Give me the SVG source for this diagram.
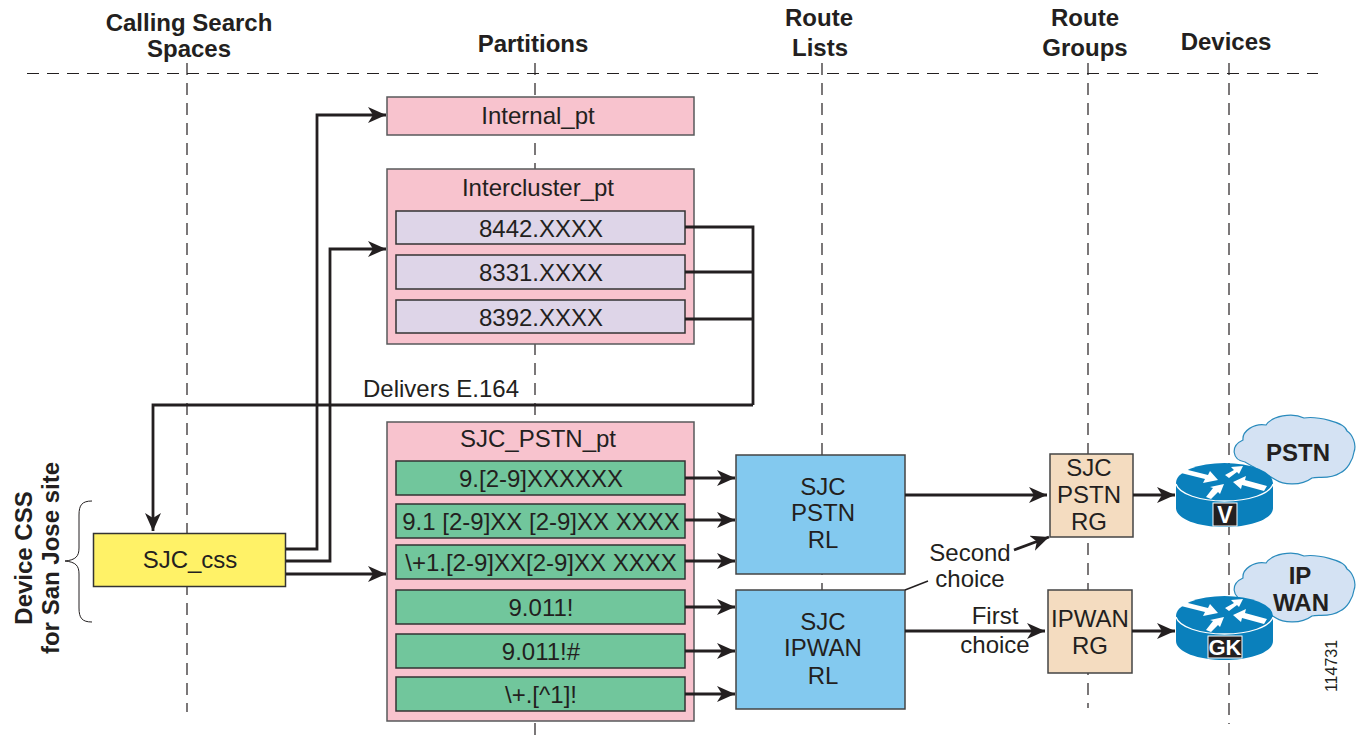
<svg xmlns="http://www.w3.org/2000/svg" width="1358" height="738" viewBox="0 0 1358 738">
<style>
text{font-family:"Liberation Sans",Arial,sans-serif;fill:#231f20;text-anchor:middle}
.t{font-size:24px}
.h{font-size:24px;font-weight:bold}
.d{stroke:#231f20;stroke-width:1.2;stroke-dasharray:12 8;fill:none}
.c{stroke:#231f20;stroke-width:2.8;fill:none}
.a{marker-end:url(#ah)}
.pk{fill:#f8c3ce;stroke:#58595b;stroke-width:1.5}
.lv{fill:#ded5e8;stroke:#333;stroke-width:1.5}
.gr{fill:#71c69c;stroke:#333;stroke-width:1.5}
.bl{fill:#83c9ef;stroke:#444;stroke-width:1.5}
.tn{fill:#f4dcc0;stroke:#444;stroke-width:1.5}
.cl{fill:#d4e2f3;stroke:#2a8bbd;stroke-width:1.2}
.rb{fill:#0a80bc}
.rl{stroke:#fff;stroke-width:1.3;fill:none}
.w{fill:#fff}
</style>
<defs>
<marker id="ah" markerUnits="userSpaceOnUse" markerWidth="20" markerHeight="16" refX="18" refY="8" orient="auto"><path d="M0 0L18 8L0 16L5 8Z" fill="#231f20"/></marker>
<g id="router">
<path class="rb" d="M0 20V45C0 56 22 64 48.500 64S97 56 97 45V20Z"/>
<ellipse class="rb" cx="48.500" cy="20" rx="48.500" ry="20"/>
<path class="rl" d="M0 21C3 31 24 38 48.500 38S94 31 97 21"/>
<path class="w" d="M5 10L8 6L32 12L34 8L42 17L27 20L29 16ZM49 12L58 7L55 4L67 3L63 11L61 9L53 15ZM57 19L70 13L69 17L91 23L88 28L66 22L65 26ZM30 34L37 25L34 24L48 21L44 31L42 29L35 36Z"/>
</g>
</defs>
<g id="guides">
<path class="d" d="M27 73.500H1318"/>
<path class="d" d="M187 63V712M535 63V738M822 63V708M1088 63V708M1229 63V724"/>
</g>
<g id="headers">
<text class="h" x="189" y="31">Calling Search</text><text class="h" x="189" y="57">Spaces</text>
<text class="h" x="533" y="52">Partitions</text>
<text class="h" x="819" y="26">Route</text><text class="h" x="820" y="56">Lists</text>
<text class="h" x="1085" y="26">Route</text><text class="h" x="1085" y="56">Groups</text>
<text class="h" x="1226" y="50">Devices</text>
</g>
<g id="internal_pt"><rect class="pk" x="387" y="97" width="307" height="38"/><text class="t" x="538" y="124">Internal_pt</text></g>
<g id="intercluster_pt"><rect class="pk" x="387" y="169" width="307" height="175"/><text class="t" x="538" y="196">Intercluster_pt</text>
<rect class="lv" x="396" y="211" width="289" height="33"/><text class="t" x="541" y="237">8442.XXXX</text>
<rect class="lv" x="396" y="255" width="289" height="34"/><text class="t" x="541" y="281">8331.XXXX</text>
<rect class="lv" x="396" y="300" width="289" height="33"/><text class="t" x="541" y="326">8392.XXXX</text></g>
<g id="sjc_pstn_pt"><rect class="pk" x="387" y="422" width="307" height="299"/><text class="t" x="538" y="447">SJC_PSTN_pt</text>
<rect class="gr" x="396" y="461" width="289" height="34"/><text class="t" x="541" y="487">9.[2-9]XXXXXX</text>
<rect class="gr" x="396" y="504" width="289" height="34"/><text class="t" x="541" y="530">9.1 [2-9]XX [2-9]XX XXXX</text>
<rect class="gr" x="396" y="545" width="289" height="34"/><text class="t" x="541" y="571">\+1.[2-9]XX[2-9]XX XXXX</text>
<rect class="gr" x="396" y="590" width="289" height="34"/><text class="t" x="541" y="616">9.011!</text>
<rect class="gr" x="396" y="634" width="289" height="34"/><text class="t" x="541" y="660">9.011!#</text>
<rect class="gr" x="396" y="677" width="289" height="34"/><text class="t" x="541" y="703">\+.[^1]!</text></g>
<g id="sjc_css"><rect x="93.500" y="533.500" width="192" height="53" fill="#fff267" stroke="#333" stroke-width="1.500"/><text class="t" x="190" y="568">SJC_css</text></g>
<g id="pstn_rl"><rect class="bl" x="736" y="455" width="169" height="119"/><text class="t" x="823" y="495">SJC</text><text class="t" x="823" y="521">PSTN</text><text class="t" x="823" y="548">RL</text></g>
<g id="ipwan_rl"><rect class="bl" x="736" y="590" width="169" height="119"/><text class="t" x="823" y="630">SJC</text><text class="t" x="823" y="656">IPWAN</text><text class="t" x="823" y="684">RL</text></g>
<g id="pstn_rg"><rect class="tn" x="1050" y="454" width="83" height="83"/><text class="t" x="1089" y="476">SJC</text><text class="t" x="1089" y="503">PSTN</text><text class="t" x="1089" y="530">RG</text></g>
<g id="ipwan_rg"><rect class="tn" x="1048" y="590" width="84" height="83"/><text class="t" x="1090" y="627">IPWAN</text><text class="t" x="1090" y="654">RG</text></g>
<g id="pstn_cloud"><path class="cl" d="M1245 462C1232 460 1230 446 1243 440C1242 431 1254 423 1266 425C1272 416 1292 412 1304 418C1316 416 1345 422 1347 431C1352 434 1357 444 1354 452C1353 460 1347 470 1340 473C1330 480 1318 476 1312 478C1300 487 1282 484 1276 480Z"/><text x="1298" y="461" font-size="24" font-weight="bold">PSTN</text></g>
<g id="ipwan_cloud"><path class="cl" d="M1245 600C1232 598 1230 584 1243 578C1242 569 1254 561 1266 563C1272 554 1292 550 1304 556C1316 554 1345 560 1347 569C1352 572 1357 582 1354 590C1353 598 1347 608 1340 611C1330 618 1318 614 1312 616C1300 625 1282 622 1276 618Z"/><text x="1300" y="584" font-size="24" font-weight="bold">IP</text><text x="1301" y="611" font-size="24" font-weight="bold">WAN</text></g>
<g id="router_v"><use href="#router" x="1176" y="463"/><rect x="1213" y="503" width="24" height="23" fill="#231f20" stroke="#fff"/><text x="1225" y="523" font-size="23" font-weight="bold" style="fill:#fff">V</text></g>
<g id="router_gk"><use href="#router" x="1176" y="596"/><rect x="1208" y="636" width="34" height="22" fill="#231f20" stroke="#fff"/><text x="1225" y="655" font-size="22" font-weight="bold" style="fill:#fff">GK</text></g>
<g id="connectors">
<path class="c a" d="M286 549H317V115H386"/>
<path class="c a" d="M286 561H330V249H386"/>
<path class="c a" d="M286 574H386"/>
<path class="c" d="M685 227H753V405"/>
<path class="c" d="M685 272H753"/>
<path class="c" d="M685 319H753"/>
<path class="c a" d="M753 405H153V531"/>
<path class="c a" d="M685 478H735"/>
<path class="c a" d="M685 520H735"/>
<path class="c a" d="M685 561H735"/>
<path class="c a" d="M685 607H735"/>
<path class="c a" d="M685 651H735"/>
<path class="c a" d="M685 694H735"/>
<path class="c a" d="M905 495H1047"/>
<path class="c a" d="M905 631H1045"/>
<path class="c a" d="M1014 550L1049 537"/>
<path d="M905 590L928 581" fill="none" stroke="#231f20" stroke-width="1.500"/>
<path class="c a" d="M1133 495H1175"/>
<path class="c a" d="M1132 631H1175"/>
<path d="M92 501C82 501 79 505 79 515V548C79 556 76 560 65 561C76 562 79 566 79 574V608C79 618 82 622 92 622" fill="none" stroke="#231f20" stroke-width="1"/>
</g>
<g id="labels">
<text class="t" x="441" y="397">Delivers E.164</text>
<text class="t" x="970" y="561">Second</text><text class="t" x="970" y="587">choice</text>
<text class="t" x="995" y="624">First</text><text class="t" x="995" y="653">choice</text>
<text class="h" transform="translate(32 558) rotate(-90)">Device CSS</text>
<text class="h" transform="translate(59 558) rotate(-90)">for San Jose site</text>
<text font-size="16" transform="translate(1337 666) rotate(-90)">114731</text>
</g>
</svg>
